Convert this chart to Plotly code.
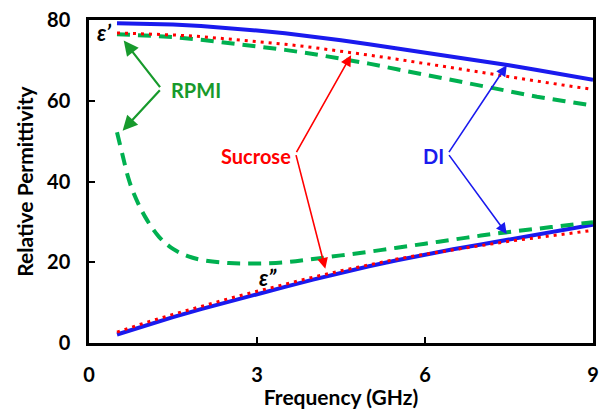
import plotly.graph_objects as go

# ---- data ----
freq = [0.5, 1.0, 1.5, 2.0, 2.5, 3.0, 3.5, 4.0, 4.5, 5.0, 5.5, 6.0, 6.5, 7.0, 7.5, 8.0, 8.5, 9.0]
di_real = [79.2, 79.1, 78.9, 78.5, 78.0, 77.4, 76.7, 75.9, 75.0, 74.0, 73.0, 71.9, 70.9, 69.9, 68.8, 67.6, 66.4, 65.2]
suc_real = [76.8, 76.6, 76.3, 75.9, 75.3, 74.7, 74.0, 73.2, 72.3, 71.3, 70.3, 69.2, 68.1, 67.0, 65.9, 64.8, 63.8, 62.8]
rpmi_real = [76.5, 76.2, 75.8, 75.1, 74.3, 73.5, 72.6, 71.6, 70.5, 69.2, 67.8, 66.4, 65.0, 63.6, 62.3, 61.0, 59.9, 58.8]
di_imag = [2.1, 4.3, 6.4, 8.4, 10.3, 12.1, 13.9, 15.7, 17.4, 19.0, 20.5, 21.9, 23.2, 24.4, 25.6, 26.8, 28.0, 29.3]
suc_imag = [2.7, 5.0, 7.1, 9.1, 11.0, 12.8, 14.6, 16.3, 17.9, 19.4, 20.8, 22.0, 23.1, 24.2, 25.2, 26.1, 27.0, 27.9]
freq_rpmi_imag = [0.5, 0.6, 0.7, 0.8, 1.0, 1.25, 1.5, 1.75, 2.0, 2.5, 3.0, 3.5, 4.0, 4.5, 5.0, 5.5, 6.0, 6.5, 7.0, 7.5, 8.0, 8.5, 9.0]
rpmi_imag = [52.2, 46.5, 41.0, 37.0, 31.3, 26.3, 23.3, 21.6, 20.6, 19.8, 19.7, 20.0, 20.8, 21.7, 22.6, 23.6, 24.6, 25.6, 26.6, 27.5, 28.3, 29.1, 29.9]

x_ticks = [0, 3, 6, 9]
y_ticks = [0, 20, 40, 60, 80]

BLUE = "#1a1aee"
RED = "#ff0000"
GREEN = "#00b050"
GREEN_DARK = "#179a2c"
FONT = "Lato"

fig = go.Figure()
for ys in (di_real, di_imag):
    fig.add_trace(go.Scatter(x=freq, y=ys, mode="lines", line=dict(color=BLUE, width=4), showlegend=False))
fig.add_trace(go.Scatter(x=freq, y=rpmi_real, mode="lines", line=dict(color=GREEN, width=4, dash="13px,8px"), showlegend=False))
fig.add_trace(go.Scatter(x=freq_rpmi_imag, y=rpmi_imag, mode="lines", line=dict(color=GREEN, width=4, dash="13px,8px", shape="spline"), showlegend=False))
for ys in (suc_real, suc_imag):
    fig.add_trace(go.Scatter(x=freq, y=ys, mode="lines", line=dict(color=RED, width=3, dash="3px,5px"), showlegend=False))

# labels (anchored at the bracket side)
fig.add_annotation(x=1.43, y=62.6, text="RPMI", showarrow=False, xanchor="left",
                   font=dict(family=FONT, size=20, color=GREEN_DARK, weight="bold"))
fig.add_annotation(x=3.65, y=46.3, text="Sucrose", showarrow=False, xanchor="right",
                   font=dict(family=FONT, size=20, color=RED, weight="bold"))
fig.add_annotation(x=6.37, y=46.4, text="DI", showarrow=False, xanchor="right",
                   font=dict(family=FONT, size=20, color=BLUE, weight="bold"))

arrows = [
    # tail(x,y), head(x,y), color, width
    ((1.29, 63.0), (0.62, 74.9), GREEN_DARK, 2.2),
    ((1.29, 63.0), (0.60, 52.6), GREEN_DARK, 2.2),
    ((3.69, 46.9), (4.68, 71.3), RED, 1.6),
    ((3.69, 46.9), (4.22, 18.4), RED, 1.6),
    ((6.41, 46.9), (7.46, 68.8), BLUE, 1.6),
    ((6.41, 46.9), (7.46, 27.0), BLUE, 1.6),
]
for (tx, ty), (hx, hy), c, w in arrows:
    fig.add_annotation(x=hx, y=hy, ax=tx, ay=ty, xref="x", yref="y", axref="x", ayref="y",
                       text="", showarrow=True, arrowhead=2, arrowsize=1.35, arrowwidth=w, arrowcolor=c)

fig.add_annotation(x=0.27, y=77.0, text="<i>ε’</i>", showarrow=False,
                   font=dict(family=FONT, size=22, color="black", weight="bold"))
fig.add_annotation(x=3.19, y=16.3, text="<i>ε”</i>", showarrow=False,
                   font=dict(family=FONT, size=22, color="black", weight="bold"))

fig.update_xaxes(range=[0, 9], tickvals=x_ticks, ticks="inside", ticklen=6, tickwidth=2, tickcolor="black",
                 showline=True, linewidth=2.5, linecolor="black", mirror=True, showgrid=False, zeroline=False,
                 ticklabelstandoff=12,
                 tickfont=dict(family=FONT, size=20, color="black", weight="bold"),
                 title=dict(text="Frequency (GHz)", standoff=6,
                            font=dict(family=FONT, size=21, color="black", weight="bold")))
fig.update_yaxes(range=[0, 80], tickvals=y_ticks, ticks="inside", ticklen=6, tickwidth=2, tickcolor="black",
                 showline=True, linewidth=2.5, linecolor="black", mirror=True, showgrid=False, zeroline=False,
                 ticklabelstandoff=12,
                 tickfont=dict(family=FONT, size=20, color="black", weight="bold"),
                 title=dict(text="Relative Permittivity", standoff=8,
                            font=dict(family=FONT, size=21, color="black", weight="bold")))

fig.update_layout(width=606, height=417, margin=dict(l=89, r=7, t=19, b=74),
                  plot_bgcolor="white", paper_bgcolor="white", showlegend=False)

fig.write_html("out.html")
